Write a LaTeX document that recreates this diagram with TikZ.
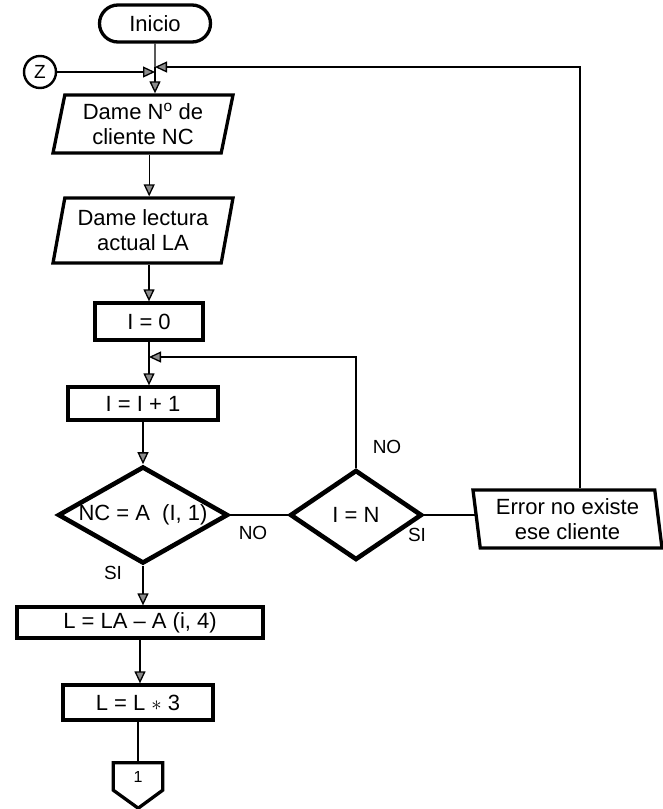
\documentclass[tikz,border=0pt]{standalone}
\usepackage{fontspec}
\setmainfont{Liberation Sans}
\usetikzlibrary{arrows.meta,shapes.geometric,shapes.misc}
\begin{document}
\begin{tikzpicture}[x=1pt, y=-1pt, >={Triangle[length=12pt,width=11pt,fill=black!45]},
  font=\fontsize{22}{25}\selectfont,
  every node/.style={inner sep=0pt, align=center},
  proc/.style={draw, line width=3.3pt, rectangle},
  io/.style={draw, line width=3.3pt, trapezium, trapezium stretches body,
    trapezium left angle=74, trapezium right angle=106},
  test/.style={draw, line width=4.6pt, diamond},
  flow/.style={line width=1.3pt},
  tag/.style={font=\fontsize{19}{22}\selectfont}]
\useasboundingbox (0,0) rectangle (663,809);
\node[draw, line width=3.3pt, rounded rectangle, minimum width=111pt, minimum height=37pt] (inicio) at (155,23.5) {Inicio};
\node[draw, circle, line width=2.4pt, minimum size=32pt, font=\fontsize{19}{19}\selectfont] (z) at (40,72) {Z};
\node[io, minimum width=180pt, minimum height=58pt] (dame1) at (143,124) {Dame N\textsuperscript{o} de\\cliente NC};
\node[io, minimum width=180pt, minimum height=65pt] (dame2) at (143,230.5) {Dame lectura\\actual LA};
\node[proc, minimum width=108pt, minimum height=37pt] (i0) at (149,321.5) {I = 0};
\node[proc, minimum width=150pt, minimum height=33pt] (inc) at (143,403.5) {I = I + 1};
\node[test, aspect=1.75, minimum width=170pt, minimum height=97pt] (dia1) at (143,515) {NC = A \ (I, 1)};
\node[test, aspect=1.5, minimum width=132pt, minimum height=90pt] (dia2) at (356,515) {I = N};
\node[io, trapezium left angle=100, trapezium right angle=80, minimum width=189pt, minimum height=58pt] (err) at (567.5,519) {Error no existe\\ese cliente};
\node[proc, minimum width=246pt, minimum height=31pt] (lla) at (140,622.5) {L = LA -- A (i, 4)};
\node[proc, minimum width=150pt, minimum height=35pt] (l3) at (138,702.5) {L = L $*$ 3};
\node[minimum width=49pt, minimum height=27pt, font=\fontsize{16}{16}\selectfont] (conn1) at (138,776.5) {1};
\draw[line width=3.3pt] (conn1.south west) -- (conn1.north west) -- (conn1.north east) -- (conn1.south east) -- ++(-24.5,18) -- cycle;
\node[tag] (no1) at (253,533) {NO};
\node[tag] (no2) at (387,447) {NO};
\node[tag] (si1) at (417,535) {SI};
\node[tag] (si2) at (113,573) {SI};
\coordinate (j1) at (155,67);
\coordinate (j2) at (149,357);
\coordinate (ret) at (580,67);
\draw[flow] (inicio) -- (j1);
\draw[flow,->] (j1) -- (j1 |- dame1.north);
\draw[flow,->] (z) -- (z -| j1);
\draw[flow,->] (err.north -| ret) -- (ret) -- (j1);
\draw[flow,->] (dame1.south -| dame2.top side) -- (dame2.top side);
\draw[flow,->] (dame2.south -| i0.north) -- (i0.north);
\draw[flow] (i0.south) -- (j2);
\draw[flow,->] (j2) -- (j2 |- inc.north);
\draw[flow,->] (inc.south) -- (inc.south |- dia1.north);
\draw[flow,->] (dia1.south) -- (dia1.south |- lla.north);
\draw[flow,->] (lla.south) -- (lla.south |- l3.north);
\draw[flow] (l3.south) -- (l3.south |- conn1.north);
\draw[flow] (dia1.east) -- (dia2.west);
\draw[flow] (dia2.east) -- (dia2.east -| err.left side);
\draw[flow,->] (dia2.north) |- (j2);
\end{tikzpicture}
\end{document}
